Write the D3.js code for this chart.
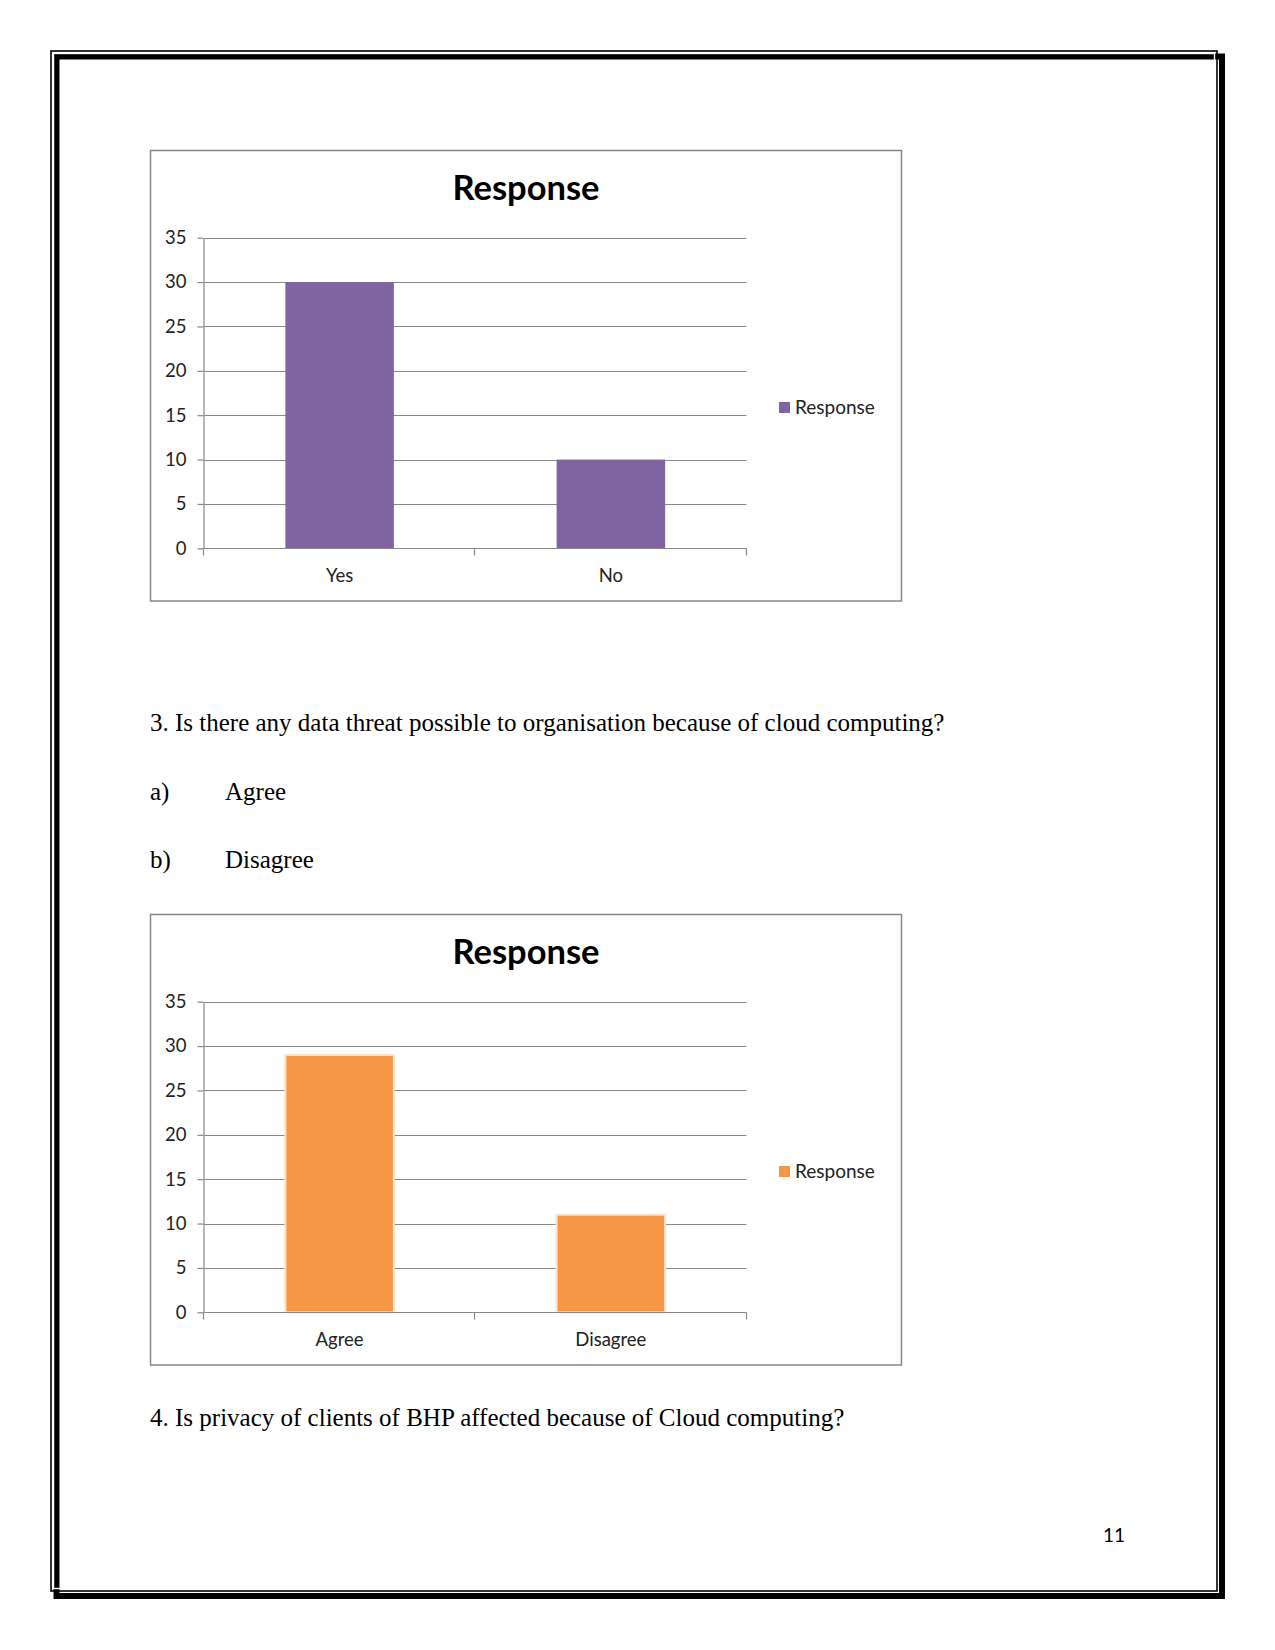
<!DOCTYPE html>
<html><head><meta charset="utf-8">
<script src="https://cdn.jsdelivr.net/npm/d3@7"></script>
<style>html,body{margin:0;padding:0;background:#fff;}svg{display:block;}</style>
</head><body>
<script>
// ---- data ----
const seriesName = "Response";
const categories1 = ["Yes", "No"];
const values1 = [30, 10];
const categories2 = ["Agree", "Disagree"];
const values2 = [29, 11];
const yTicks = [0, 5, 10, 15, 20, 25, 30, 35];
const question3 = "3. Is there any data threat possible to organisation because of cloud computing?";
const options3 = [["a)", "Agree"], ["b)", "Disagree"]];
const question4 = "4. Is privacy of clients of BHP affected because of Cloud computing?";
const pageNumber = "11";

const W = 1275, H = 1650;
const svg = d3.select("body").append("svg").attr("width", W).attr("height", H);
svg.append("rect").attr("width", W).attr("height", H).attr("fill", "#fff");

// page border (thin outer top-left, thick shadow bottom-right)
svg.append("rect").attr("x", 56.5).attr("y", 56.5).attr("width", 1165.5).attr("height", 1539.5)
  .attr("fill", "none").attr("stroke", "#000").attr("stroke-width", 6);
svg.append("rect").attr("x", 51).attr("y", 51).attr("width", 1166).attr("height", 1540)
  .attr("fill", "none").attr("stroke", "#000").attr("stroke-width", 1.6);
svg.append("rect").attr("x", 53.5).attr("y", 53.5).attr("width", 1161).attr("height", 1535)
  .attr("fill", "none").attr("stroke", "#fff").attr("stroke-width", 1.4);

const chartFont = "Lato, 'Open Sans', sans-serif";
const labelSize = 18.5;

function drawChart(fy, cats, vals, color, glow) {
  const fx = 150, fw = 751, fh = 450.5;
  const g = svg.append("g");
  g.append("rect").attr("x", fx + 0.5).attr("y", fy + 0.5).attr("width", fw).attr("height", fh)
    .attr("fill", "#fff").attr("stroke", "#868686").attr("stroke-width", 1.5);
  g.append("text").attr("x", 526).attr("y", fy + 50).attr("text-anchor", "middle")
    .attr("font-family", chartFont).attr("font-weight", "bold").attr("font-size", 34.5)
    .attr("fill", "#000").text(seriesName);

  const left = 204, right = 746.5, top = fy + 87.7, bottom = fy + 398.3;
  const x = d3.scaleBand().domain(cats).range([left, right]).padding(0);
  const y = d3.scaleLinear().domain([0, 35]).range([bottom, top]);
  const barW = x.bandwidth() / 2.5;

  // gridlines
  g.selectAll("line.grid").data(yTicks.filter(t => t > 0)).enter().append("line")
    .attr("x1", left).attr("x2", right)
    .attr("y1", d => Math.round(y(d)) + 0.5).attr("y2", d => Math.round(y(d)) + 0.5)
    .attr("stroke", "#878787").attr("stroke-width", 1.2);

  // bars
  g.selectAll("rect.bar").data(vals).enter().append("rect")
    .attr("x", (d, i) => x(cats[i]) + (x.bandwidth() - barW) / 2)
    .attr("y", d => y(d)).attr("width", barW).attr("height", d => bottom - y(d))
    .attr("fill", color)
    .attr("stroke", glow ? "#fde3cc" : "none").attr("stroke-width", glow ? 2 : 0);

  // y axis
  const yAxis = g.append("g").attr("transform", `translate(${left - 0.5},0)`)
    .call(d3.axisLeft(y).tickValues(yTicks).tickSizeInner(6).tickSizeOuter(0).tickPadding(11));
  yAxis.select(".domain").attr("stroke", "#878787").attr("stroke-width", 1.2);
  yAxis.selectAll(".tick line").attr("stroke", "#878787").attr("stroke-width", 1.2);
  yAxis.selectAll(".tick text").attr("font-family", chartFont).attr("font-size", labelSize).attr("fill", "#222");

  // x axis
  const xAxisY = Math.round(bottom) + 0.5;
  g.append("line").attr("x1", left).attr("x2", right).attr("y1", xAxisY).attr("y2", xAxisY)
    .attr("stroke", "#878787").attr("stroke-width", 1.2);
  const xTicks = [left, left + x.step(), right];
  g.selectAll("line.xt").data(xTicks).enter().append("line")
    .attr("x1", d => Math.round(d) - 0.5).attr("x2", d => Math.round(d) - 0.5)
    .attr("y1", xAxisY).attr("y2", xAxisY + 7)
    .attr("stroke", "#878787").attr("stroke-width", 1.2);
  g.selectAll("text.xl").data(cats).enter().append("text")
    .attr("x", d => x(d) + x.bandwidth() / 2).attr("y", fy + 432)
    .attr("text-anchor", "middle").attr("font-family", chartFont).attr("font-size", labelSize)
    .attr("fill", "#222").text(d => d);

  // legend
  g.append("rect").attr("x", 779).attr("y", fy + 252).attr("width", 11).attr("height", 11)
    .attr("fill", color);
  g.append("text").attr("x", 795).attr("y", fy + 263.5).attr("font-family", chartFont)
    .attr("font-size", 19).attr("fill", "#222").text(seriesName);
}

drawChart(150, categories1, values1, "#8064A2", false);
drawChart(914, categories2, values2, "#F79646", true);

const bodyFont = "'Liberation Serif', 'Times New Roman', serif";
const bodySize = 25;
svg.append("text").attr("x", 150).attr("y", 731).attr("font-family", bodyFont).attr("font-size", bodySize)
  .attr("fill", "#000").text(question3);
options3.forEach((o, i) => {
  const by = 800 + i * 68;
  svg.append("text").attr("x", 150).attr("y", by).attr("font-family", bodyFont).attr("font-size", bodySize).text(o[0]);
  svg.append("text").attr("x", 225).attr("y", by).attr("font-family", bodyFont).attr("font-size", bodySize).text(o[1]);
});
svg.append("text").attr("x", 150).attr("y", 1426).attr("font-family", bodyFont).attr("font-size", bodySize)
  .attr("fill", "#000").text(question4);

svg.append("text").attr("x", 1114).attr("y", 1542).attr("text-anchor", "middle")
  .attr("font-family", chartFont).attr("font-size", 19).attr("fill", "#000").text(pageNumber);
</script>
</body></html>
